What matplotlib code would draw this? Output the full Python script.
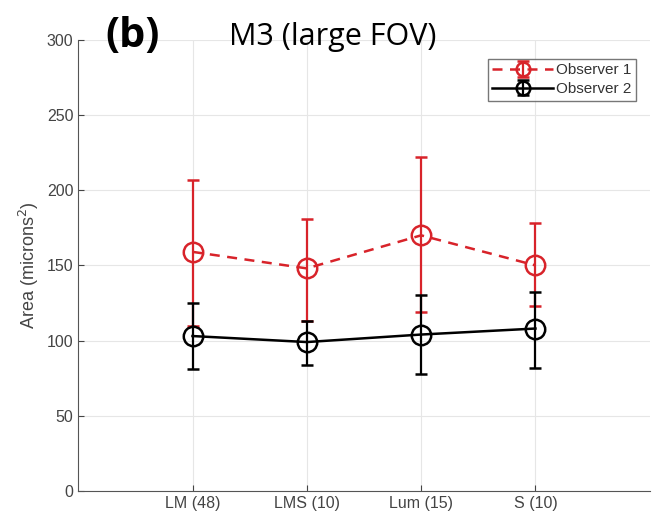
import matplotlib.pyplot as plt

categories = ['LM (48)', 'LMS (10)', 'Lum (15)', 'S (10)']

obs1_mean = [159, 148, 170, 150]
obs1_upper = [207, 181, 222, 178]
obs1_lower = [110, 113, 119, 123]

obs2_mean = [103, 99, 104, 108]
obs2_upper = [125, 113, 130, 132]
obs2_lower = [81, 84, 78, 82]

x = list(range(1, len(categories) + 1))

plt.rcParams['font.family'] = 'Liberation Sans'

fig = plt.figure(figsize=(6.57, 5.25), dpi=100)
ax = fig.add_axes([0.119, 0.065, 0.870, 0.859])

err1 = [[m - l for m, l in zip(obs1_mean, obs1_lower)],
        [u - m for m, u in zip(obs1_mean, obs1_upper)]]
err2 = [[m - l for m, l in zip(obs2_mean, obs2_lower)],
        [u - m for m, u in zip(obs2_mean, obs2_upper)]]

ax.errorbar(x, obs1_mean, yerr=err1, color='#d8232a', ls='--', lw=1.8,
            marker='o', ms=14, mfc='none', mew=1.8, capsize=4, capthick=1.8,
            elinewidth=1.6, dashes=(4, 3), label='Observer 1', zorder=3)
ax.errorbar(x, obs2_mean, yerr=err2, color='black', ls='-', lw=1.8,
            marker='o', ms=14, mfc='none', mew=1.8, capsize=4, capthick=1.8,
            elinewidth=1.6, label='Observer 2', zorder=4)

ax.set_xlim(0, 5)
ax.set_ylim(0, 300)
ax.set_xticks(x)
ax.set_xticklabels(categories)
ax.set_yticks(range(0, 301, 50))
ax.grid(True, color='#e6e6e6', lw=0.8)
ax.set_axisbelow(True)
for s in ['top', 'right']:
    ax.spines[s].set_visible(False)
for s in ['left', 'bottom']:
    ax.spines[s].set_color('#555555')
ax.tick_params(colors='#444444', labelsize=11.5, length=4, direction='in')
ax.set_ylabel('Area (microns$^2$)', fontsize=13, color='#444444')

leg = ax.legend(loc='upper right', bbox_to_anchor=(0.99, 0.975), fontsize=11,
                fancybox=False, edgecolor='#555555', handlelength=4,
                borderpad=0.3, labelspacing=0.3, handletextpad=0.2,
                markerscale=0.7)
for t in leg.get_texts():
    t.set_color('#333333')

fig.text(0.16, 0.93, '(b)', fontsize=30, fontweight='bold',
         family='Open Sans', ha='left', va='center')
fig.text(0.507, 0.93, 'M3 (large FOV)', fontsize=22,
         family='Open Sans', ha='center', va='center')

fig.savefig('out.png', dpi=100)
